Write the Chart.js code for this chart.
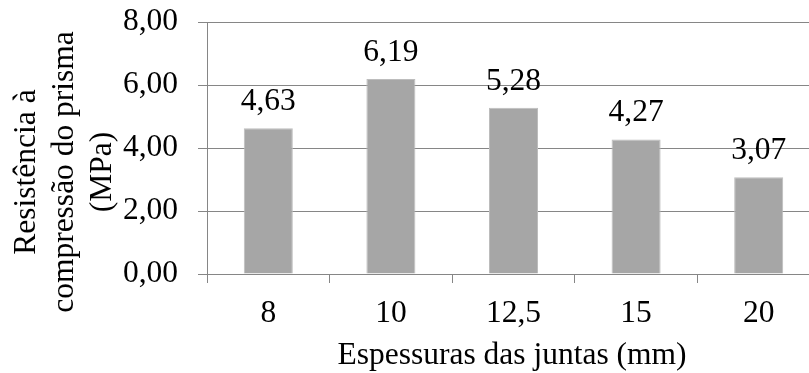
<!DOCTYPE html>
<html>
<head>
<meta charset="utf-8">
<script src="https://cdn.jsdelivr.net/npm/chart.js@4.4.1/dist/chart.umd.min.js"></script>
<style>
  html, body { margin: 0; padding: 0; background: #ffffff; overflow: hidden; }
  #wrap { width: 809px; height: 373px; overflow: hidden; }
</style>
</head>
<body>
<div id="wrap"><canvas id="chart" width="821" height="373"></canvas></div>
<script>
// Joint thickness (mm) and prism compressive strength (MPa)
const categories = ['8', '10', '12,5', '15', '20'];
const strength = [4.63, 6.19, 5.28, 4.27, 3.07];
const yTitleLines = ['Resistência à', 'compressão do prisma', '(MPa)'];
const xTitle = 'Espessuras das juntas (mm)';

const FONT = 'Liberation Serif, Times New Roman, serif';
const FSIZE = 31.5;
const GRID = '#868686';

const fmt = v => v.toFixed(2).replace('.', ',');

// Value labels above each bar
const valueLabels = {
  id: 'valueLabels',
  afterDatasetsDraw(chart) {
    const ctx = chart.ctx;
    const meta = chart.getDatasetMeta(0);
    ctx.save();
    ctx.font = FSIZE + 'px ' + FONT;
    ctx.fillStyle = '#000000';
    ctx.textAlign = 'center';
    ctx.textBaseline = 'alphabetic';
    meta.data.forEach((bar, i) => {
      ctx.fillText(fmt(strength[i]), bar.x, bar.y - 18);
    });
    ctx.restore();
  }
};

// Axis titles
const axisTitles = {
  id: 'axisTitles',
  afterDraw(chart) {
    const ctx = chart.ctx;
    const area = chart.chartArea;
    ctx.save();
    ctx.font = FSIZE + 'px ' + FONT;
    ctx.fillStyle = '#000000';
    ctx.textAlign = 'center';
    ctx.textBaseline = 'middle';
    // horizontal title below the category labels
    ctx.fillText(xTitle, 512, area.bottom + 82);
    // rotated three-line title on the left
    const cy = area.bottom - 102;
    const xs = [area.left - 180, area.left - 142, area.left - 104];
    yTitleLines.forEach((line, i) => {
      ctx.save();
      ctx.translate(xs[i], cy);
      ctx.rotate(-Math.PI / 2);
      ctx.fillText(line, 0, 0);
      ctx.restore();
    });
    ctx.restore();
  }
};

new Chart(document.getElementById('chart'), {
  type: 'bar',
  data: {
    labels: categories,
    datasets: [{
      data: strength,
      backgroundColor: '#a6a6a6',
      borderColor: '#bdbdbd',
      borderWidth: 1,
      categoryPercentage: 1.0,
      barPercentage: 0.4
    }]
  },
  options: {
    responsive: false,
    devicePixelRatio: 1,
    animation: false,
    layout: { padding: { left: 0, right: 1, top: 22, bottom: 0 } },
    plugins: {
      legend: { display: false },
      tooltip: { enabled: false }
    },
    scales: {
      x: {
        afterFit(scale) { scale.height = 99; },
        grid: {
          display: true,
          drawOnChartArea: false,
          drawTicks: true,
          tickLength: 9,
          color: GRID,
          offset: true
        },
        border: { display: true, color: GRID, width: 1 },
        ticks: {
          color: '#000000',
          font: { family: FONT, size: FSIZE },
          padding: 12,
          maxRotation: 0
        }
      },
      y: {
        min: 0,
        max: 8,
        afterFit(scale) {
          scale.width = 207;
          scale.paddingTop = 0;
          scale.paddingBottom = 0;
        },
        grid: {
          color: GRID,
          lineWidth: 1,
          drawTicks: true,
          tickLength: 9
        },
        border: { display: true, color: GRID, width: 1 },
        ticks: {
          stepSize: 2,
          color: '#000000',
          font: { family: FONT, size: FSIZE },
          padding: 20,
          callback: v => fmt(v)
        }
      }
    }
  },
  plugins: [valueLabels, axisTitles]
});
</script>
</body>
</html>
